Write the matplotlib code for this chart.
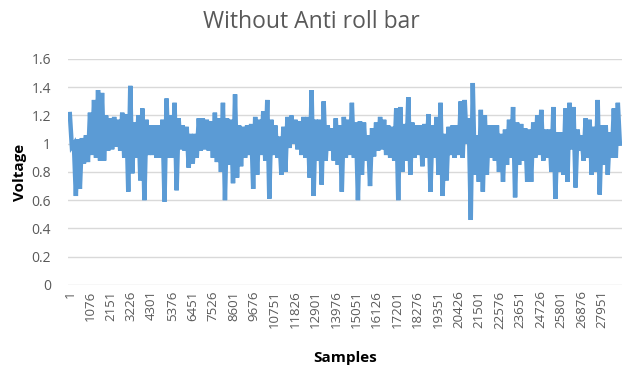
import numpy as np
import matplotlib
matplotlib.use("Agg")
import matplotlib.pyplot as plt

# Voltage: pairs (high, low) roughly every 4 px of plot width
highs = [
    1.21, 1.00, 1.03, 1.04, 1.06, 1.22, 1.31, 1.38, 1.36, 1.20, 1.18, 1.19, 1.17, 1.22, 1.21, 1.41,
    1.15, 1.20, 1.25, 1.17, 1.13, 1.13,
    1.13, 1.17, 1.32, 1.20, 1.29, 1.18, 1.13, 1.12, 1.07, 1.07, 1.18, 1.18, 1.17, 1.16, 1.22, 1.18,
    1.29, 1.18, 1.17, 1.35, 1.13, 1.12, 1.13,
    1.14, 1.19, 1.17, 1.23, 1.31, 1.17, 1.13, 1.05, 1.12, 1.19, 1.20, 1.17, 1.16, 1.19, 1.19, 1.38,
    1.17, 1.17, 1.30, 1.13, 1.11, 1.18, 1.13,
    1.19, 1.17, 1.29, 1.15, 1.16, 1.15, 1.06, 1.11, 1.15, 1.19, 1.17, 1.13, 1.12, 1.25, 1.26, 1.14,
    1.33, 1.15, 1.13, 1.13, 1.14, 1.21, 1.13,
    1.19, 1.29, 1.07, 1.12, 1.13, 1.13, 1.30, 1.31, 1.18, 1.43, 1.06, 1.24, 1.20, 1.13, 1.13, 1.13,
    1.07, 1.10, 1.17, 1.26, 1.15, 1.14, 1.11,
    1.10, 1.15, 1.20, 1.24, 1.10, 1.10, 1.26, 1.08, 1.08, 1.25, 1.29, 1.26, 1.10, 1.06, 1.18, 1.17,
    1.12, 1.31, 1.13, 1.13, 1.08, 1.25, 1.29,
]
lows = [
    0.98, 0.63, 0.68, 0.86, 0.87, 0.92, 0.90, 0.88, 0.88, 0.95, 0.96, 0.98, 0.95, 0.90, 0.66, 0.79,
    0.90, 0.74, 0.60, 0.92, 0.92, 0.90,
    0.90, 0.59, 0.90, 0.90, 0.67, 0.96, 0.95, 0.83, 0.86, 0.90, 0.95, 0.96, 0.95, 0.90, 0.87, 0.80,
    0.60, 0.85, 0.72, 0.76, 0.84, 0.90, 0.92,
    0.68, 0.78, 0.92, 0.88, 0.61, 0.92, 0.90, 0.78, 0.80, 0.97, 1.00, 0.96, 0.92, 0.90, 0.76, 0.63,
    0.88, 0.71, 0.88, 0.95, 0.88, 0.85, 0.66,
    0.90, 0.92, 0.90, 0.60, 0.78, 0.88, 0.70, 0.91, 0.95, 0.96, 0.92, 0.90, 0.88, 0.60, 0.80, 0.88,
    0.78, 0.90, 0.92, 0.84, 0.90, 0.66, 0.90,
    0.78, 0.63, 0.74, 0.92, 0.90, 0.92, 0.90, 1.00, 0.46, 0.78, 0.73, 0.66, 0.78, 0.90, 0.88, 0.80,
    0.73, 0.85, 0.90, 0.62, 0.85, 0.88, 0.73,
    0.73, 0.90, 0.92, 0.88, 0.90, 0.80, 0.61, 0.80, 0.78, 0.73, 0.96, 0.69, 0.95, 0.88, 0.90, 0.78,
    0.80, 0.64, 0.85, 0.78, 0.90, 0.90, 1.00,
]
n_samples = 28900
tick_samples = list(range(1, 27952, 1075))

voltage = np.empty(2 * len(highs))
voltage[0::2] = highs
voltage[1::2] = lows
samples = np.linspace(1, n_samples, len(voltage))

plt.rcParams["font.family"] = ["Open Sans", "DejaVu Sans"]

fig = plt.figure(figsize=(6.23, 3.71), dpi=100)
ax = fig.add_axes([0.109, 0.232, 0.889, 0.609])

ax.plot(samples, voltage, color="#5B9BD5", linewidth=3.2, solid_joinstyle="miter")

ax.set_xlim(-100, n_samples + 100)
ax.set_ylim(0, 1.6)
ax.set_yticks(np.arange(0, 1.61, 0.2))
ax.set_yticklabels(["0", "0.2", "0.4", "0.6", "0.8", "1", "1.2", "1.4", "1.6"])
ax.set_xticks(tick_samples)
ax.set_xticklabels([str(t) for t in tick_samples], rotation=90)
ax.tick_params(axis="both", length=0, labelsize=9.5, colors="#595959")
ax.tick_params(axis="y", labelsize=10, pad=12)
ax.tick_params(axis="x", pad=4)

ax.grid(axis="y", color="#d9d9d9", linewidth=1)
ax.set_axisbelow(True)
for s in ax.spines.values():
    s.set_visible(False)

fig.text(0.5, 0.94, "Without Anti roll bar", fontsize=16.5, color="#595959",
         ha="center", va="center")
ax.set_xlabel("Samples", fontsize=11, fontweight="bold", labelpad=16)
ax.set_ylabel("Voltage", fontsize=11, fontweight="bold", labelpad=3)

fig.savefig("out.png", dpi=100)
